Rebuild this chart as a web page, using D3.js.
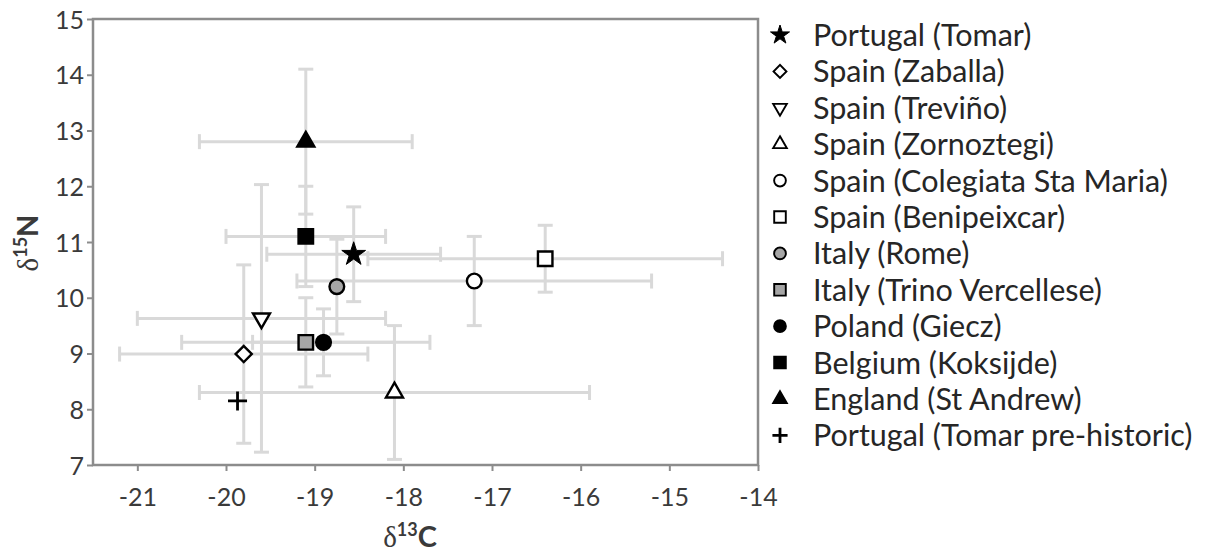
<!DOCTYPE html>
<html>
<head>
<meta charset="utf-8">
<script src="https://cdn.jsdelivr.net/npm/d3@7"></script>
<style>
  body { margin: 0; background: #fff; }
  text { font-family: Lato, "Open Sans", sans-serif; }
</style>
</head>
<body>
<svg id="chart" width="1207" height="553"></svg>
<script>
// Data
const sites = [
  "Portugal (Tomar)", "Spain (Zaballa)", "Spain (Treviño)", "Spain (Zornoztegi)",
  "Spain (Colegiata Sta Maria)", "Spain (Benipeixcar)", "Italy (Rome)",
  "Italy (Trino Vercellese)", "Poland (Giecz)", "Belgium (Koksijde)",
  "England (St Andrew)", "Portugal (Tomar pre-historic)"
];
const d13C = [-18.56, -19.8, -19.6, -18.1, -17.2, -16.4, -18.75, -19.1, -18.9, -19.1, -19.1, -19.87];
const d15N = [10.78, 8.99, 9.63, 8.3, 10.3, 10.7, 10.2, 9.2, 9.2, 11.1, 12.8, 8.15];
const errC = [0.98, 1.4, 1.4, 2.2, 2.0, 2.0, 0, 1.4, 0.8, 0.9, 1.2, 0];
const errN = [0.85, 1.6, 2.4, 1.2, 0.8, 0.6, 0.85, 0.8, 0.6, 0.9, 1.3, 0];
const shapes = ["star", "diamond", "triangleDown", "triangle", "circle", "square",
  "circle", "square", "circle", "square", "triangle", "plus"];
const fills = ["#000", "#fff", "#fff", "#fff", "#fff", "#fff",
  "#a6a6a6", "#a6a6a6", "#000", "#000", "#000", "none"];
const xTicks = [-21, -20, -19, -18, -17, -16, -15, -14];
const yTicks = [7, 8, 9, 10, 11, 12, 13, 14, 15];

const svg = d3.select("#chart");
const margin = { top: 19, left: 93, right: 758, bottom: 465 };

const x = d3.scaleLinear().domain([-21.5, -14]).range([margin.left, margin.right]);
const y = d3.scaleLinear().domain([7, 15]).range([margin.bottom, margin.top]);

const axisColor = "#8c8c8c";
const barColor = "#d9d9d9";

// Axes
const gx = svg.append("g")
  .attr("transform", `translate(0,${margin.bottom})`)
  .call(d3.axisBottom(x).tickValues(xTicks).tickSize(6).tickPadding(0)
    .tickFormat(d => d).tickSizeOuter(0));
const gy = svg.append("g")
  .attr("transform", `translate(${margin.left},0)`)
  .call(d3.axisLeft(y).tickValues(yTicks).tickSize(6).tickPadding(3).tickSizeOuter(0));

[gx, gy].forEach(g => {
  g.select(".domain").remove();
  g.selectAll(".tick line").attr("stroke", axisColor).attr("stroke-width", 2);
  g.selectAll(".tick text")
    .attr("fill", "#3a3a3a")
    .style("font-size", "25px")
    .style("font-family", "Lato, sans-serif");
});
gx.selectAll(".tick text").attr("y", 32).attr("dy", "0.36em");
gy.selectAll(".tick text").attr("dy", "0.36em");

// Plot frame
svg.append("rect")
  .attr("x", margin.left).attr("y", margin.top)
  .attr("width", margin.right - margin.left)
  .attr("height", margin.bottom - margin.top)
  .attr("fill", "none").attr("stroke", axisColor).attr("stroke-width", 2.5);

// Error bars
const cap = 7.5;
const bars = svg.append("g").attr("stroke", barColor).attr("stroke-width", 3).attr("fill", "none");
sites.forEach((s, i) => {
  const cx = x(d13C[i]), cy = y(d15N[i]);
  if (errC[i] > 0) {
    const x0 = x(d13C[i] - errC[i]), x1 = x(d13C[i] + errC[i]);
    bars.append("line").attr("x1", x0).attr("x2", x1).attr("y1", cy).attr("y2", cy);
    [x0, x1].forEach(xx => bars.append("line")
      .attr("x1", xx).attr("x2", xx).attr("y1", cy - cap).attr("y2", cy + cap));
  }
  if (errN[i] > 0) {
    const y0 = y(d15N[i] - errN[i]), y1 = y(d15N[i] + errN[i]);
    bars.append("line").attr("x1", cx).attr("x2", cx).attr("y1", y0).attr("y2", y1);
    [y0, y1].forEach(yy => bars.append("line")
      .attr("x1", cx - cap).attr("x2", cx + cap).attr("y1", yy).attr("y2", yy));
  }
});

// Marker shapes
function marker(g, shape, fill, k) {
  let type, size, rot = 0;
  if (shape === "star") { type = d3.symbolStar; size = 175; }
  else if (shape === "diamond") { type = d3.symbolSquare; size = 130; rot = 45; }
  else if (shape === "triangle") { type = d3.symbolTriangle; size = 125; }
  else if (shape === "triangleDown") { type = d3.symbolTriangle; size = 125; rot = 180; }
  else if (shape === "circle") { type = d3.symbolCircle; size = 170; }
  else if (shape === "square") { type = d3.symbolSquare; size = 210; }
  else { type = d3.symbolPlus; size = 120; }
  const p = g.append("path")
    .attr("d", d3.symbol(type, size * k * k)())
    .attr("transform", rot ? `rotate(${rot})` : null);
  if (shape === "plus") {
    p.attr("fill", "none").attr("stroke", "#000").attr("stroke-width", 2.8);
  } else if (shape === "star") {
    p.attr("fill", "#000").attr("stroke", "#000").attr("stroke-width", 1);
  } else {
    p.attr("fill", fill).attr("stroke", "#000").attr("stroke-width", 2.4 * k);
  }
}

sites.forEach((s, i) => {
  const g = svg.append("g").attr("transform", `translate(${x(d13C[i])},${y(d15N[i])})`);
  marker(g, shapes[i], fills[i], 1);
});

// Axis titles
svg.append("text")
  .attr("x", 410).attr("y", 547)
  .attr("text-anchor", "middle")
  .attr("fill", "#3a3a3a")
  .style("font-size", "29px")
  .call(t => {
    t.append("tspan").style("font-family", "'Liberation Serif', serif").text("δ");
    t.append("tspan").attr("dy", -11).style("font-size", "18px").style("font-weight", "bold").text("13");
    t.append("tspan").attr("dy", 11).style("font-weight", "bold").text("C");
  });

svg.append("text")
  .attr("transform", "translate(38,243) rotate(-90)")
  .attr("text-anchor", "middle")
  .attr("fill", "#3a3a3a")
  .style("font-size", "29px")
  .call(t => {
    t.append("tspan").style("font-family", "'Liberation Serif', serif").text("δ");
    t.append("tspan").attr("dy", -11).style("font-size", "18px").style("font-weight", "bold").text("15");
    t.append("tspan").attr("dy", 11).style("font-weight", "bold").text("N");
  });

// Legend
const legendTop = 35, legendStep = 36.4;
const legend = svg.append("g");
sites.forEach((s, i) => {
  const row = legend.append("g").attr("transform", `translate(780,${legendTop + i * legendStep})`);
  marker(row, shapes[i], fills[i], 0.8);
  row.append("text")
    .attr("x", 33).attr("dy", "0.36em")
    .attr("fill", "#262626")
    .style("font-size", "30.5px")
    .text(s);
});
</script>
</body>
</html>
